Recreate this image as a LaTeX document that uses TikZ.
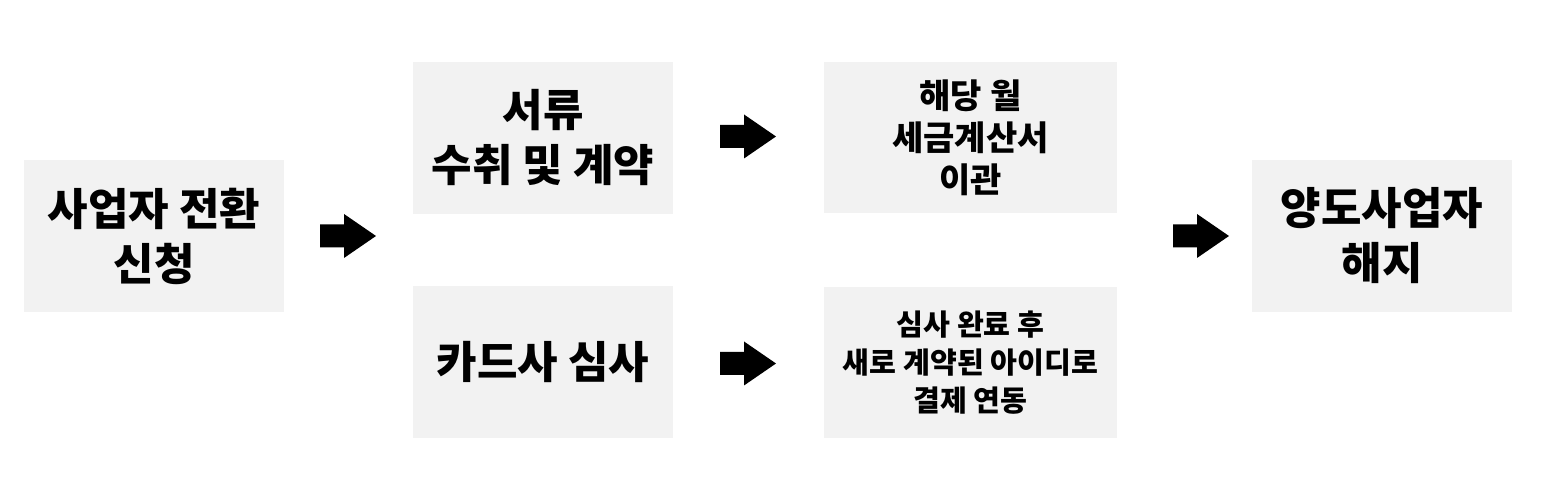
\documentclass[tikz,border=0pt]{standalone}
\usepackage{fontspec}
\setmainfont{Noto Sans CJK KR}
\definecolor{boxgray}{HTML}{F2F2F2}
\tikzset{
 stepbox/.style={fill=boxgray,inner sep=0pt,align=center,text=black,minimum width=130pt,minimum height=76pt,font=\fontsize{22}{27.5}\selectfont\bfseries},
 notebox/.style={fill=boxgray,inner sep=0pt,align=center,text=black,minimum width=146.5pt,minimum height=75.5pt},
}
\begin{document}
\begin{tikzpicture}[x=0.5pt,y=0.5pt]
 \useasboundingbox (0,0) rectangle (1547,490);
 \node[stepbox] (apply) at (154,254) {사업자 전환\\신청};
 \node[stepbox] (contract) at (543,352) {서류\\수취 및 계약};
 \node[stepbox] (review) at (543,127.5) {카드사 심사};
 \node[notebox,font=\fontsize{17}{21}\selectfont\bfseries] (invoice) at (970.5,352.5) {해당 월\\세금계산서\\이관};
 \node[notebox,font=\fontsize{14.6}{19}\selectfont\bfseries] (link) at (970.5,127.5) {심사 완료 후\\새로 계약된 아이디로\\결제 연동};
 \node[stepbox] (cancel) at (1382,254) {양도사업자\\해지};
 \fill[black,shift={(320,254)}](0,-11.5)--(24,-11.5)--(24,-22)--(56,0)--(24,22)--(24,11.5)--(0,11.5)--cycle;
 \fill[black,shift={(720,353.5)}](0,-11.5)--(24,-11.5)--(24,-22)--(56,0)--(24,22)--(24,11.5)--(0,11.5)--cycle;
 \fill[black,shift={(720,126.5)}](0,-11.5)--(24,-11.5)--(24,-22)--(56,0)--(24,22)--(24,11.5)--(0,11.5)--cycle;
 \fill[black,shift={(1173,254)}](0,-11.5)--(24,-11.5)--(24,-22)--(56,0)--(24,22)--(24,11.5)--(0,11.5)--cycle;
\end{tikzpicture}
\end{document}
